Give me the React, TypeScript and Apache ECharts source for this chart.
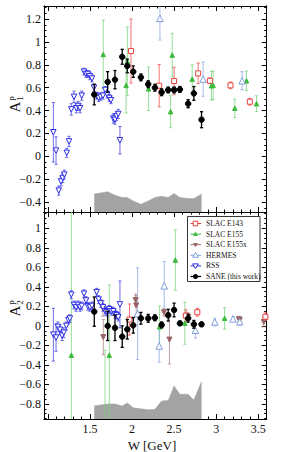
import React, { useEffect, useRef } from "react";
import * as echarts from "echarts";

// ---------------- data ----------------
// SANE (this work)
const saneW = [1.552, 1.711, 1.798, 1.884, 1.944, 2.015, 2.106, 2.193, 2.272, 2.352, 2.43, 2.5, 2.569, 2.667, 2.735, 2.826];
const saneA1 = [0.54, 0.65, 0.67, 0.87, 0.79, 0.74, 0.69, 0.63, 0.6, 0.56, 0.58, 0.58, 0.585, 0.46, 0.55, 0.32];
const saneA1Err = [0.09, 0.09, 0.08, 0.065, 0.06, 0.05, 0.03, 0.03, 0.03, 0.03, 0.025, 0.025, 0.025, 0.035, 0.06, 0.07];
const saneA2 = [0.146, 0.0, -0.02, -0.11, -0.035, 0.006, 0.078, 0.078, 0.083, 0.01, 0.11, 0.163, 0.026, 0.078, 0.016, 0.016];
const saneA2Err = [0.15, 0.15, 0.13, 0.11, 0.1, 0.08, 0.06, 0.04, 0.03, 0.03, 0.06, 0.07, 0.02, 0.04, 0.04, 0.02];
// systematic bands (top edge)
const bandA1 = [-0.33, -0.31, -0.34, -0.36, -0.36, -0.39, -0.42, -0.39, -0.36, -0.35, -0.36, -0.325, -0.36, -0.37, -0.37, -0.33];
const bandA2 = [-0.82, -0.8, -0.8, -0.82, -0.79, -0.84, -0.85, -0.86, -0.855, -0.77, -0.765, -0.615, -0.7, -0.7, -0.76, -0.57];

// RSS
const rssW1 = [1.066, 1.098, 1.13, 1.157, 1.177, 1.196, 1.225, 1.252, 1.279, 1.311, 1.339, 1.359, 1.383, 1.403, 1.43, 1.454, 1.477, 1.501, 1.525, 1.549, 1.58, 1.604, 1.628, 1.655, 1.683, 1.706, 1.73, 1.75, 1.778, 1.798, 1.817, 1.837, 1.857];
const rssA1 = [0.21, 0.05, -0.3, -0.22, -0.19, -0.16, 0.03, 0.13, 0.41, 0.52, 0.42, 0.44, 0.42, 0.53, 0.74, 0.72, 0.72, 0.7, 0.68, 0.6, 0.53, 0.51, 0.52, 0.53, 0.58, 0.54, 0.51, 0.49, 0.33, 0.32, 0.35, 0.37, 0.14];
const rssA1Err = [0.26, 0.12, 0.04, 0.04, 0.04, 0.04, 0.04, 0.045, 0.05, 0.05, 0.04, 0.04, 0.04, 0.04, 0.03, 0.03, 0.03, 0.03, 0.03, 0.03, 0.03, 0.03, 0.03, 0.03, 0.03, 0.03, 0.03, 0.03, 0.04, 0.04, 0.04, 0.04, 0.12];
const rssW2 = [1.066, 1.098, 1.12, 1.145, 1.17, 1.19, 1.22, 1.245, 1.262, 1.279, 1.311, 1.335, 1.359, 1.383, 1.403, 1.43, 1.454, 1.477, 1.501, 1.525, 1.58, 1.604, 1.628, 1.655, 1.683, 1.706, 1.73, 1.755, 1.778, 1.798, 1.817, 1.837, 1.857];
const rssA2 = [-0.09, -0.12, -0.01, -0.04, -0.1, -0.07, 0.0, 0.06, 0.075, 0.32, 0.215, 0.19, 0.215, 0.19, 0.205, 0.33, 0.26, 0.2, 0.19, 0.205, 0.345, 0.27, 0.23, 0.19, 0.15, 0.14, 0.17, 0.15, 0.15, 0.12, 0.11, 0.09, 0.22];
const rssA2Err = [0.27, 0.14, 0.05, 0.05, 0.05, 0.05, 0.04, 0.04, 0.04, 0.04, 0.04, 0.04, 0.04, 0.04, 0.04, 0.04, 0.04, 0.04, 0.04, 0.04, 0.04, 0.04, 0.04, 0.04, 0.04, 0.04, 0.04, 0.04, 0.04, 0.04, 0.04, 0.04, 0.24];

// SLAC E143
const e143W1 = [1.988, 2.323, 2.5, 2.786, 2.925, 3.17, 3.4];
const e143A1 = [0.92, 0.617, 0.658, 0.725, 0.66, 0.62, 0.477];
const e143A1Err = [0.28, 0.185, 0.12, 0.09, 0.025, 0.03, 0.03];
const e143W2 = [1.97, 2.64, 2.776, 3.585];
const e143A2 = [0.065, 0.105, 0.14, 0.094];
const e143A2Err = [0.16, 0.06, 0.04, 0.04];

// SLAC E155
const e155W1 = [1.659, 1.93, 1.945, 2.197, 2.458, 2.478, 2.715, 2.944, 2.964, 3.221, 3.36, 3.479];
const e155A1 = [0.89, 0.62, 0.83, 0.59, 0.39, 0.885, 0.675, 0.617, 0.62, 0.42, 0.66, 0.46];
const e155A1Err = [0.3, 0.24, 0.3, 0.19, 0.14, 0.19, 0.125, 0.125, 0.125, 0.08, 0.085, 0.07];
const e155W2 = [1.28, 1.68, 1.73, 2.328, 2.515, 2.628, 3.1];
const e155A2 = [-0.3, -1.2, -0.3, -0.008, 0.675, 0.027, 0.078];
const e155A2Err = [1.6, 0.95, 0.72, 0.21, 0.31, 0.215, 0.11];

// SLAC E155x
const e155xW2 = [1.655, 1.659, 2.043, 2.05, 2.38, 2.445, 2.64, 2.667, 3.27, 3.28, 3.565];
const e155xA2 = [0.18, -0.115, 0.265, 0.21, 0.14, -0.14, 0.1, 0.094, 0.068, 0.06, 0.04];
const e155xA2Err = [0.08, 0.18, 0.06, 0.1, 0.04, 0.25, 0.04, 0.04, 0.03, 0.03, 0.05];

// HERMES
const hermesW1 = [2.332, 2.845, 3.308];
const hermesA1 = [1.206, 0.675, 0.66];
const hermesA1Err = [0.19, 0.15, 0.08];
const hermesW2 = [2.067, 2.323, 2.383, 2.753, 2.984, 3.2, 3.28];
const hermesA2 = [0.125, -0.206, 0.41, -0.045, 0.04, 0.072, 0.043];
const hermesA2Err = [0.47, 0.165, 0.25, 0.08, 0.04, 0.025, 0.04];

// axis ticks / labels
const xMajorTicks = [1, 1.5, 2, 2.5, 3, 3.5];
const xTickLabels = [1.5, 2, 2.5, 3, 3.5];
const yTopLabels = [-0.4, -0.2, 0, 0.2, 0.4, 0.6, 0.8, 1, 1.2];
const yBotLabels = [-0.8, -0.6, -0.4, -0.2, 0, 0.2, 0.4, 0.6, 0.8, 1];
const legendNames = ["SLAC E143", "SLAC E155", "SLAC E155x", "HERMES", "RSS", "SANE (this work)"];

// ---------------- helpers ----------------
const XMIN = 0.955, XMAX = 3.6;
const Y1MIN = -0.487, Y1MAX = 1.314;
const Y2MIN = -0.954, Y2MAX = 1.167;

const steps = (a: number, b: number, s: number, skip: number[]) => {
  const out: number[] = [];
  for (let i = 0; a + i * s <= b + 1e-9; i++) {
    const v = Math.round((a + i * s) * 1000) / 1000;
    if (!skip.some((k) => Math.abs(k - v) < 1e-6)) out.push(v);
  }
  return out;
};

const FONT = "Liberation Serif";

function xAx(gi: number, pos: string, vals: number[], len: number, labels?: number[]) {
  return {
    type: "value", gridIndex: gi, position: pos, min: XMIN, max: XMAX,
    axisLine: { show: true, onZero: false, lineStyle: { color: "#000", width: 1 } },
    axisTick: { show: true, inside: true, length: len, customValues: vals, lineStyle: { color: "#000", width: 1 } },
    axisLabel: labels
      ? { show: true, customValues: labels, margin: 4, fontFamily: FONT, fontSize: 12, color: "#111" }
      : { show: false },
    splitLine: { show: false },
  };
}
function yAx(gi: number, pos: string, min: number, max: number, vals: number[], len: number, labels?: number[]) {
  return {
    type: "value", gridIndex: gi, position: pos, min, max,
    axisLine: { show: true, onZero: false, lineStyle: { color: "#000", width: 1 } },
    axisTick: { show: true, inside: true, length: len, customValues: vals, lineStyle: { color: "#000", width: 1 } },
    axisLabel: labels
      ? {
          show: true, customValues: labels, margin: 3, fontFamily: FONT, fontSize: 12, color: "#111",
          formatter: (v: number) => (v < 0 ? "\u2212" + String(Math.abs(v)) : String(v)),
        }
      : { show: false },
    splitLine: { show: false },
  };
}

function errSeries(W: number[], A: number[], E: number[], ax: number, color: string, width: number, ymin: number, ymax: number, z: number) {
  return {
    type: "custom", xAxisIndex: ax, yAxisIndex: ax, z, silent: true, clip: true,
    data: W.map((w, i) => [w, A[i] - E[i], A[i] + E[i]]),
    encode: { x: 0, y: [1, 2] },
    renderItem: (params: any, api: any) => {
      const x = api.value(0);
      const lo = Math.max(ymin, api.value(1));
      const hi = Math.min(ymax, api.value(2));
      if (hi <= lo) return null;
      const p1 = api.coord([x, lo]);
      const p2 = api.coord([x, hi]);
      const cap = 1.6;
      const st = { stroke: color, lineWidth: width };
      const ch: any[] = [{ type: "line", shape: { x1: p1[0], y1: p1[1], x2: p2[0], y2: p2[1] }, style: st }];
      if (api.value(1) >= ymin) ch.push({ type: "line", shape: { x1: p1[0] - cap, y1: p1[1], x2: p1[0] + cap, y2: p1[1] }, style: st });
      if (api.value(2) <= ymax) ch.push({ type: "line", shape: { x1: p2[0] - cap, y1: p2[1], x2: p2[0] + cap, y2: p2[1] }, style: st });
      return { type: "group", children: ch };
    },
  };
}

function ptSeries(W: number[], A: number[], ax: number, symbol: string, size: number, rotate: number, fill: string, stroke: string, z: number) {
  return {
    type: "scatter", xAxisIndex: ax, yAxisIndex: ax, z, silent: true, clip: true,
    symbol, symbolSize: size, symbolRotate: rotate,
    data: W.map((w, i) => [w, A[i]]),
    itemStyle: { color: fill, borderColor: stroke, borderWidth: 1, opacity: 1 },
  };
}

function bandSeries(W: number[], A: number[], ax: number) {
  return {
    type: "line", xAxisIndex: ax, yAxisIndex: ax, z: 1, silent: true, symbol: "none",
    data: W.map((w, i) => [w, A[i]]),
    lineStyle: { width: 0.5, color: "#a3a3a3" },
    areaStyle: { color: "#a3a3a3", opacity: 1, origin: "start" },
  };
}

const C = {
  e143: "#e8423f", e143Bar: "rgba(240,80,80,0.8)",
  e155: "#3dbb3d", e155Bar: "rgba(120,210,120,0.75)",
  e155x: "#9a6464", e155xBar: "rgba(170,120,120,0.7)",
  hermes: "#7f9fdc", hermesBar: "rgba(140,165,225,0.75)",
  rss: "#2c2ce6", rssBar: "rgba(60,60,225,0.75)",
  sane: "#000", saneBar: "#000",
};

function legendGraphics() {
  const x0 = 187.5, y0 = 216.5, w = 72.5, h = 65;
  const els: any[] = [
    { type: "rect", shape: { x: x0, y: y0, width: w, height: h }, style: { fill: "#fff", stroke: "#333", lineWidth: 1 }, z: 100 },
  ];
  const colors = [C.e143, C.e155, C.e155x, C.hermes, C.rss, C.sane];
  legendNames.forEach((name, i) => {
    const cy = 223.5 + i * 10.6;
    const cx = 195.5;
    els.push({ type: "line", shape: { x1: 190.5, y1: cy, x2: 201, y2: cy }, style: { stroke: colors[i], lineWidth: i === 5 ? 1.3 : 1 }, z: 101 });
    let m: any;
    if (i === 0) m = { type: "rect", shape: { x: cx - 2.3, y: cy - 2.3, width: 4.6, height: 4.6 }, style: { fill: "#fff", stroke: colors[i], lineWidth: 1 } };
    else if (i === 1) m = { type: "polygon", shape: { points: [[cx, cy - 2.6], [cx - 2.4, cy + 1.8], [cx + 2.4, cy + 1.8]] }, style: { fill: colors[i] } };
    else if (i === 2) m = { type: "polygon", shape: { points: [[cx, cy + 2.6], [cx - 2.4, cy - 1.8], [cx + 2.4, cy - 1.8]] }, style: { fill: colors[i] } };
    else if (i === 3) m = { type: "polygon", shape: { points: [[cx, cy - 2.8], [cx - 2.8, cy + 2], [cx + 2.8, cy + 2]] }, style: { fill: "#fff", stroke: colors[i], lineWidth: 1 } };
    else if (i === 4) m = { type: "polygon", shape: { points: [[cx, cy + 2.8], [cx - 2.8, cy - 2], [cx + 2.8, cy - 2]] }, style: { fill: "#fff", stroke: colors[i], lineWidth: 1 } };
    else m = { type: "circle", shape: { cx, cy, r: 2.5 }, style: { fill: "#000" } };
    m.z = 102;
    els.push(m);
    els.push({
      type: "text", x: 206, y: cy, z: 102,
      style: { text: name, fontFamily: FONT, fontSize: 7.5, fill: "#111", verticalAlign: "middle", align: "left" },
    });
  });
  return els;
}

function yTitle(cx: number, cy: number, sub: string) {
  return {
    type: "group", x: cx, y: cy, rotation: Math.PI / 2, z: 100,
    children: [
      { type: "text", x: 0, y: 0, style: { text: "A", fontFamily: FONT, fontSize: 15, fill: "#111", align: "center", verticalAlign: "middle" } },
      { type: "text", x: 8.5, y: -4.5, style: { text: "p", fontFamily: FONT, fontSize: 9, fill: "#111", align: "center", verticalAlign: "middle" } },
      { type: "text", x: 8.5, y: 4.5, style: { text: sub, fontFamily: FONT, fontSize: 9, fill: "#111", align: "center", verticalAlign: "middle" } },
    ],
  };
}

export default function App() {
  const ref = useRef<HTMLDivElement>(null);
  useEffect(() => {
    if (!ref.current) return;
    const chart = echarts.init(ref.current, null, { renderer: "svg" });
    const xMinor = steps(1.0, 3.6, 0.1, xMajorTicks);
    const yTopMinor = steps(-0.45, 1.3, 0.05, yTopLabels);
    const yBotMinor = steps(-0.95, 1.15, 0.05, yBotLabels);

    const option: any = {
      animation: false,
      textStyle: { fontFamily: FONT },
      grid: [
        { left: 44, right: 32.3, top: 6, height: 206 },
        { left: 44, right: 32.3, top: 212, height: 207 },
      ],
      xAxis: [
        xAx(0, "bottom", xMajorTicks, 5),
        xAx(0, "bottom", xMinor, 2.5),
        xAx(0, "top", xMajorTicks, 5),
        xAx(0, "top", xMinor, 2.5),
        xAx(1, "bottom", xMajorTicks, 5, xTickLabels),
        xAx(1, "bottom", xMinor, 2.5),
        xAx(1, "top", xMajorTicks, 5),
        xAx(1, "top", xMinor, 2.5),
      ],
      yAxis: [
        yAx(0, "left", Y1MIN, Y1MAX, yTopLabels, 5, yTopLabels),
        yAx(0, "left", Y1MIN, Y1MAX, yTopMinor, 2.5),
        yAx(0, "right", Y1MIN, Y1MAX, yTopLabels, 5),
        yAx(0, "right", Y1MIN, Y1MAX, yTopMinor, 2.5),
        yAx(1, "left", Y2MIN, Y2MAX, yBotLabels, 5, yBotLabels),
        yAx(1, "left", Y2MIN, Y2MAX, yBotMinor, 2.5),
        yAx(1, "right", Y2MIN, Y2MAX, yBotLabels, 5),
        yAx(1, "right", Y2MIN, Y2MAX, yBotMinor, 2.5),
      ],
      series: [
        // top panel
        bandSeries(saneW, bandA1, 0),
        errSeries(e155W1, e155A1, e155A1Err, 0, C.e155Bar, 1, Y1MIN, Y1MAX, 2),
        errSeries(hermesW1, hermesA1, hermesA1Err, 0, C.hermesBar, 1, Y1MIN, Y1MAX, 2),
        errSeries(e143W1, e143A1, e143A1Err, 0, C.e143Bar, 1, Y1MIN, Y1MAX, 2),
        errSeries(rssW1, rssA1, rssA1Err, 0, C.rssBar, 1, Y1MIN, Y1MAX, 2),
        errSeries(saneW, saneA1, saneA1Err, 0, C.saneBar, 1.3, Y1MIN, Y1MAX, 4),
        ptSeries(e155W1, e155A1, 0, "triangle", 4.5, 0, C.e155, C.e155, 3),
        ptSeries(hermesW1, hermesA1, 0, "triangle", 6.5, 0, "#fff", C.hermes, 3),
        ptSeries(e143W1, e143A1, 0, "rect", 5, 0, "#fff", C.e143, 3),
        ptSeries(rssW1, rssA1, 0, "triangle", 5.5, 180, "#fff", C.rss, 3),
        ptSeries(saneW, saneA1, 0, "circle", 5.5, 0, "#000", "#000", 5),
        // bottom panel
        bandSeries(saneW, bandA2, 4),
        errSeries(e155W2, e155A2, e155A2Err, 4, C.e155Bar, 1, Y2MIN, Y2MAX, 2),
        errSeries(e155xW2, e155xA2, e155xA2Err, 4, C.e155xBar, 1, Y2MIN, Y2MAX, 2),
        errSeries(hermesW2, hermesA2, hermesA2Err, 4, C.hermesBar, 1, Y2MIN, Y2MAX, 2),
        errSeries(e143W2, e143A2, e143A2Err, 4, C.e143Bar, 1, Y2MIN, Y2MAX, 2),
        errSeries(rssW2, rssA2, rssA2Err, 4, C.rssBar, 1, Y2MIN, Y2MAX, 2),
        errSeries(saneW, saneA2, saneA2Err, 4, C.saneBar, 1.3, Y2MIN, Y2MAX, 4),
        ptSeries(e155W2, e155A2, 4, "triangle", 4.5, 0, C.e155, C.e155, 3),
        ptSeries(e155xW2, e155xA2, 4, "triangle", 5, 180, C.e155x, C.e155x, 3),
        ptSeries(hermesW2, hermesA2, 4, "triangle", 6.5, 0, "#fff", C.hermes, 3),
        ptSeries(e143W2, e143A2, 4, "rect", 5, 0, "#fff", C.e143, 3),
        ptSeries(rssW2, rssA2, 4, "triangle", 5.5, 180, "#fff", C.rss, 3),
        ptSeries(saneW, saneA2, 4, "circle", 5.5, 0, "#000", "#000", 5),
      ],
      graphic: [
        ...legendGraphics(),
        yTitle(15, 107, "1"),
        yTitle(15, 311, "2"),
        {
          type: "text", x: 152, y: 445, z: 100,
          style: { text: "W [GeV]", fontFamily: FONT, fontSize: 13, fill: "#111", align: "center", verticalAlign: "middle" },
        },
      ],
    };
    chart.setOption(option);
    return () => chart.dispose();
  }, []);
  return <div ref={ref} style={{ position: "absolute", left: 0, top: 0, width: 299, height: 452 }} />;
}
